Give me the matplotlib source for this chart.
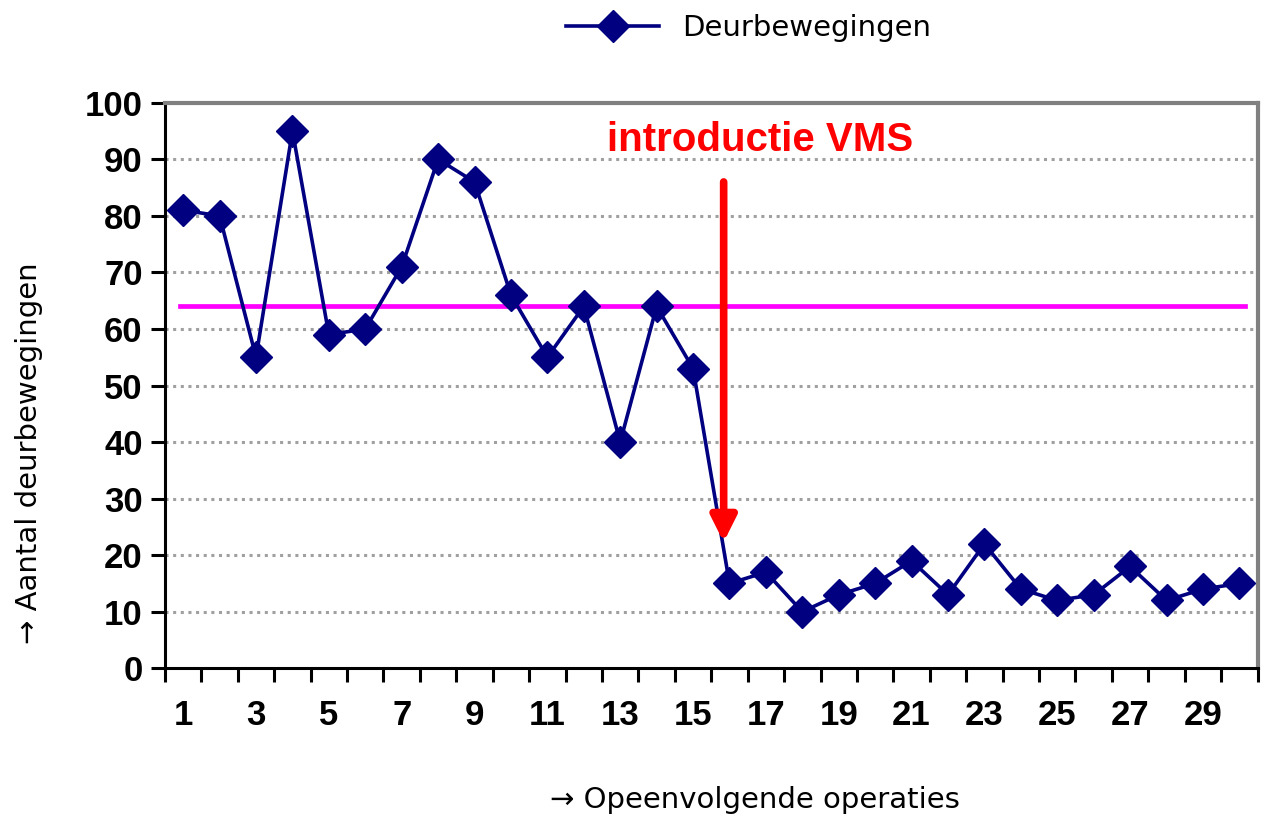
import matplotlib.pyplot as plt

# operation number and door movements per operation
operaties = list(range(1, 31))
deurbewegingen = [81, 80, 55, 95, 59, 60, 71, 90, 86, 66,
                  55, 64, 40, 64, 53, 15, 17, 10, 13, 15,
                  19, 13, 22, 14, 12, 13, 18, 12, 14, 15]
gemiddelde = 64          # magenta reference line
introductie_x = 15.84    # where VMS was introduced

fig = plt.figure(figsize=(12.69, 8.22), dpi=100)
ax = fig.add_axes([0.130, 0.187, 0.861, 0.688])

# dotted grid
for v in range(10, 100, 10):
    ax.axhline(v, color='#a0a0a0', lw=2.2, ls=(0, (1, 1.5)), zorder=1)

ax.plot([0.9, 30.15], [gemiddelde, gemiddelde], color='#ff00ff', lw=3.4, zorder=2)

ax.plot(operaties, deurbewegingen, color='#000080', lw=2.6, marker='D',
        markersize=16, label='Deurbewegingen', zorder=3)

# arrow + text
ax.annotate('', xy=(introductie_x, 22.3), xytext=(introductie_x, 86),
            arrowprops=dict(arrowstyle='-|>', color='red', lw=5.5,
                            mutation_scale=38, shrinkA=0, shrinkB=0), zorder=4)
ax.text(16.85, 93.5, 'introductie VMS', color='red', fontsize=29, fontweight='bold',
        family='Liberation Sans', ha='center', va='center')

ax.set_xlim(0.5, 30.5)
ax.set_ylim(0, 100)

ax.set_yticks(range(0, 101, 10))
ax.set_xticks([i + 0.5 for i in range(0, 31)])
ax.set_xticklabels([])
ax.set_xticks(operaties, minor=True)
ax.set_xticklabels([str(i) if i % 2 == 1 else '' for i in operaties], minor=True)
ax.tick_params(axis='x', which='minor', length=0, pad=22)
ax.tick_params(axis='x', which='major', length=10, width=2.2, direction='out')
ax.tick_params(axis='y', length=10, width=2.2, direction='out', pad=6)
for lab in ax.get_yticklabels() + ax.get_xticklabels(minor=True):
    lab.set_fontsize(25)
    lab.set_fontweight('bold')
    lab.set_family('Liberation Sans')

for s in ['left', 'bottom']:
    ax.spines[s].set_linewidth(2.2)
    ax.spines[s].set_color('black')
for s in ['top', 'right']:
    ax.spines[s].set_linewidth(3)
    ax.spines[s].set_color('#808080')

ax.set_ylabel('→ Aantal deurbewegingen', fontsize=21)
ax.yaxis.set_label_coords(-0.112, 0.38)
ax.set_xlabel('→ Opeenvolgende operaties', fontsize=21)
ax.xaxis.set_label_coords(0.54, -0.208)

fig.legend(loc='center', bbox_to_anchor=(0.59, 0.966), frameon=False, fontsize=21,
           handlelength=3.2, handletextpad=0.8)

fig.savefig('out.png', dpi=100)
